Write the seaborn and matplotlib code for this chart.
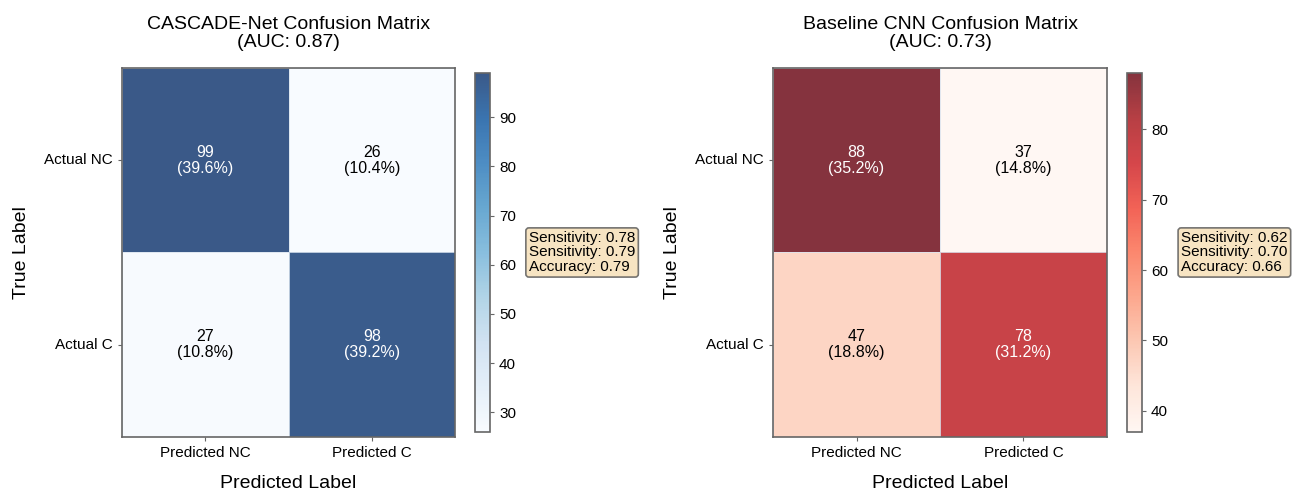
import numpy as np
import matplotlib
matplotlib.use("Agg")
import matplotlib.pyplot as plt
import matplotlib.colors as mcolors
import seaborn as sns

sns.set_style("white")
plt.rcParams["font.family"] = ["Liberation Sans", "DejaVu Sans"]
plt.rcParams["text.color"] = "black"
plt.rcParams["axes.labelcolor"] = "black"
plt.rcParams["xtick.color"] = "black"
plt.rcParams["ytick.color"] = "black"

# Confusion matrices (rows: true label, columns: predicted label)
row_labels = ["Actual NC", "Actual C"]
col_labels = ["Predicted NC", "Predicted C"]
cascade_counts = [[99, 26], [27, 98]]
baseline_counts = [[88, 37], [47, 78]]

cascade_auc = 0.87
baseline_auc = 0.73
cascade_metrics = [("Sensitivity", 0.78), ("Sensitivity", 0.79), ("Accuracy", 0.79)]
baseline_metrics = [("Sensitivity", 0.62), ("Sensitivity", 0.70), ("Accuracy", 0.66)]

fig = plt.figure(figsize=(12.97, 4.95), dpi=100)

panels = [
    dict(counts=cascade_counts, cmap="Blues", title="CASCADE-Net Confusion Matrix",
         auc=cascade_auc, metrics=cascade_metrics,
         ax_rect=[0.0941, 0.1172, 0.2567, 0.7455], cb_rect=[0.3662, 0.1273, 0.0116, 0.7253]),
    dict(counts=baseline_counts, cmap="Reds", title="Baseline CNN Confusion Matrix",
         auc=baseline_auc, metrics=baseline_metrics,
         ax_rect=[0.5960, 0.1172, 0.2575, 0.7455], cb_rect=[0.8689, 0.1273, 0.0116, 0.7253]),
]

edge = "#666666"

for p in panels:
    cm = np.array(p["counts"])
    total = cm.sum()
    labels = np.array([[f"{v}\n({v / total * 100:.1f}%)" for v in row] for row in cm])
    ax = fig.add_axes(p["ax_rect"])
    cax = fig.add_axes(p["cb_rect"])
    sns.heatmap(cm, annot=labels, fmt="", cmap=p["cmap"], alpha=0.8, ax=ax, cbar_ax=cax,
                xticklabels=col_labels, yticklabels=row_labels,
                linewidths=0.5, linecolor="#dde6f0",
                annot_kws={"fontsize": 11.5, "linespacing": 1.05})
    # dark cells keep white text, light cells get pure black
    for t in ax.texts:
        if mcolors.to_hex(t.get_color()) != "#ffffff":
            t.set_color("black")
    ax.set_title(f"{p['title']}\n(AUC: {p['auc']:.2f})", fontsize=14, linespacing=1.12, pad=15)
    ax.set_xlabel("Predicted Label", fontsize=14, labelpad=11)
    ax.set_ylabel("True Label", fontsize=14, labelpad=10)
    ax.tick_params(axis="both", labelsize=11, length=3, width=0.8, color=edge,
                   left=True, bottom=True)
    plt.setp(ax.get_yticklabels(), rotation=0)
    plt.setp(ax.get_xticklabels(), rotation=0)
    for s in ax.spines.values():
        s.set_visible(True)
        s.set_color(edge)
        s.set_linewidth(1.2)
    cax.tick_params(labelsize=11, length=3, width=0.8, color=edge)
    cb = ax.collections[0].colorbar
    cb.outline.set_edgecolor(edge)
    cb.outline.set_linewidth(1.2)

    text = "\n".join(f"{name}: {val:.2f}" for name, val in p["metrics"])
    ax.text(1.222, 0.5, text, transform=ax.transAxes, ha="left", va="center",
            fontsize=11, linespacing=1.05,
            bbox=dict(boxstyle="round,pad=0.2", facecolor="#f5deb3", alpha=0.8,
                      edgecolor="#555555", linewidth=1.2))

fig.savefig("out.png", dpi=100)
